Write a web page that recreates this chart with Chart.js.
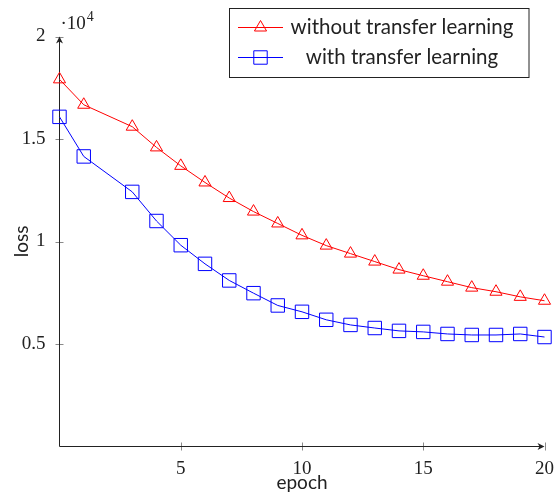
<!DOCTYPE html>
<html>
<head>
<meta charset="utf-8">
<script src="https://cdn.jsdelivr.net/npm/chart.js@4.4.0/dist/chart.umd.min.js"></script>
<style>
html, body { margin: 0; padding: 0; background: #fff; }
#wrap { width: 556px; height: 495px; }
</style>
</head>
<body>
<div id="wrap"><canvas id="lossChart"></canvas></div>
<script>
// ---- data ----
const epochs = [0, 1, 3, 4, 5, 6, 7, 8, 9, 10, 11, 12, 13, 14, 15, 16, 17, 18, 19, 20];
const lossWithout = [17910, 16670, 15600, 14590, 13690, 12880, 12120, 11460, 10880, 10300,
                     9800, 9410, 9020, 8630, 8330, 8040, 7750, 7550, 7300, 7110];
const lossWith = [16080, 14150, 12420, 11000, 9820, 8910, 8100, 7480, 6880, 6570,
                  6180, 5930, 5780, 5640, 5590, 5490, 5440, 5440, 5490, 5340];
const xTicks = [5, 10, 15, 20];
const yTicks = [5000, 10000, 15000, 20000];
const seriesLabels = ["without transfer learning", "with transfer learning"];

const SERIF = "'Liberation Serif', serif";
const SANS = "Lato, sans-serif";

function toPoints(ys) {
    return epochs.map((e, i) => ({ x: e, y: ys[i] }));
}

// axes drawn pgfplots-style: left + bottom lines with arrows, ticks crossing the axis
const axesPlugin = {
    id: "axes",
    beforeDatasetsDraw(chart) {
        const { ctx, chartArea: a, scales } = chart;
        ctx.save();
        // ticks
        ctx.strokeStyle = "#8a8a8a";
        ctx.lineWidth = 1;
        ctx.beginPath();
        scales.y.ticks.forEach(t => {
            const y = Math.round(scales.y.getPixelForValue(t.value)) + 0.5;
            ctx.moveTo(a.left - 4, y); ctx.lineTo(a.left + 4, y);
        });
        scales.x.ticks.forEach(t => {
            const x = Math.round(scales.x.getPixelForValue(t.value)) + 0.5;
            ctx.moveTo(x, a.bottom - 4); ctx.lineTo(x, a.bottom + 4);
        });
        ctx.stroke();
        // axis lines
        ctx.strokeStyle = "#222";
        ctx.beginPath();
        ctx.moveTo(a.left, a.top + 2); ctx.lineTo(a.left, a.bottom);
        ctx.lineTo(a.right - 2, a.bottom);
        ctx.stroke();
        // arrow heads
        ctx.fillStyle = "#222";
        ctx.beginPath();
        ctx.moveTo(a.left, a.top);
        ctx.lineTo(a.left - 3.5, a.top + 7);
        ctx.lineTo(a.left, a.top + 5);
        ctx.lineTo(a.left + 3.5, a.top + 7);
        ctx.closePath();
        ctx.fill();
        ctx.beginPath();
        ctx.moveTo(a.right, a.bottom);
        ctx.lineTo(a.right - 7, a.bottom - 3.5);
        ctx.lineTo(a.right - 5, a.bottom);
        ctx.lineTo(a.right - 7, a.bottom + 3.5);
        ctx.closePath();
        ctx.fill();

        // ·10^4 multiplier
        ctx.fillStyle = "#222";
        ctx.textBaseline = "alphabetic";
        ctx.textAlign = "left";
        ctx.font = "19px " + SERIF;
        ctx.fillText("\u00b710", a.left + 1, 29);
        const w = ctx.measureText("\u00b710").width;
        ctx.font = "14px " + SERIF;
        ctx.fillText("4", a.left + 1 + w + 1, 21);
        ctx.restore();
    }
};

const legendPlugin = {
    id: "boxLegend",
    afterDraw(chart) {
        const { ctx, chartArea: a } = chart;
        const boxR = a.right - 15.5, boxL = 229.5, boxT = 8.5, boxB = 77.5;
        ctx.save();
        ctx.fillStyle = "#fff";
        ctx.fillRect(boxL, boxT, boxR - boxL, boxB - boxT);
        ctx.strokeStyle = "#222";
        ctx.lineWidth = 1;
        ctx.strokeRect(boxL, boxT, boxR - boxL, boxB - boxT);
        const rows = [27.5, 57.5];
        chart.data.datasets.forEach((ds, i) => {
            const y = rows[i];
            ctx.strokeStyle = ds.borderColor;
            ctx.lineWidth = 1;
            ctx.beginPath();
            ctx.moveTo(238, y); ctx.lineTo(283, y);
            ctx.stroke();
            ctx.fillStyle = "rgba(0,0,0,0)";
            Chart.helpers.drawPoint(ctx, {
                pointStyle: ds.pointStyle, radius: ds.pointRadius,
                borderWidth: 1, rotation: 0
            }, 260.5, y);
            ctx.fillStyle = "#222";
            ctx.font = "20.5px " + SANS;
            ctx.textAlign = "center";
            ctx.textBaseline = "middle";
            ctx.fillText(ds.label, 402, y);
        });
        ctx.restore();
    }
};

new Chart(document.getElementById("lossChart"), {
    type: "line",
    data: {
        datasets: [
            {
                label: seriesLabels[0],
                data: toPoints(lossWithout),
                borderColor: "#ff0000",
                backgroundColor: "rgba(0,0,0,0)",
                borderWidth: 1,
                pointStyle: "triangle",
                pointRadius: 7,
                pointBorderWidth: 1,
                tension: 0,
                clip: false
            },
            {
                label: seriesLabels[1],
                data: toPoints(lossWith),
                borderColor: "#0000ff",
                backgroundColor: "rgba(0,0,0,0)",
                borderWidth: 1,
                pointStyle: "rect",
                pointRadius: 9.5,
                pointBorderWidth: 1,
                tension: 0,
                clip: false
            }
        ]
    },
    options: {
        responsive: true,
        maintainAspectRatio: false,
        animation: false,
        layout: { autoPadding: false, padding: { left: 0, right: 11.5, top: 36.5, bottom: 0 } },
        plugins: {
            legend: { display: false },
            tooltip: { enabled: false }
        },
        scales: {
            x: {
                type: "linear",
                min: 0,
                max: 20,
                afterBuildTicks: s => { s.ticks = xTicks.map(v => ({ value: v })); },
                afterFit: s => { s.height = 48.5; s.paddingLeft = 0; s.paddingRight = 0; },
                grid: { drawOnChartArea: false, drawTicks: false },
                border: { display: false },
                ticks: {
                    padding: 11,
                    color: "#222",
                    font: { family: SERIF, size: 19 },
                    maxRotation: 0,
                    callback: v => String(v)
                },
                title: {
                    display: true,
                    text: "epoch",
                    color: "#222",
                    font: { family: SANS, size: 19 },
                    padding: { top: 0, bottom: 1 }
                }
            },
            y: {
                type: "linear",
                min: 0,
                max: 20000,
                afterBuildTicks: s => { s.ticks = yTicks.map(v => ({ value: v })); },
                afterFit: s => { s.width = 59.5; s.paddingTop = 0; s.paddingBottom = 0; },
                grid: { drawOnChartArea: false, drawTicks: false },
                border: { display: false },
                ticks: {
                    padding: 14,
                    color: "#222",
                    font: { family: SERIF, size: 19 },
                    callback: v => String(v / 10000)
                },
                title: {
                    display: true,
                    text: "loss",
                    color: "#222",
                    font: { family: SANS, size: 19 },
                    padding: { top: 10, bottom: 0 }
                }
            }
        }
    },
    plugins: [axesPlugin, legendPlugin]
});
</script>
</body>
</html>
